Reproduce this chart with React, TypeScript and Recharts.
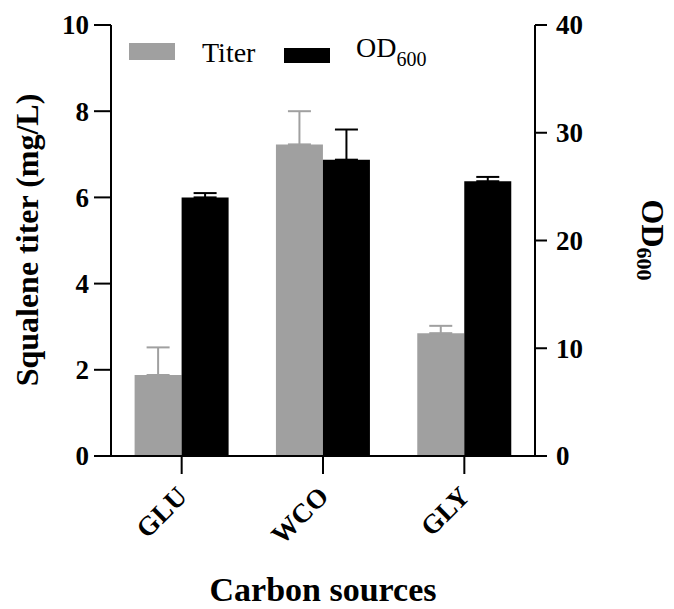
import { BarChart, Bar, XAxis, YAxis, ErrorBar, Legend } from "recharts";

document.body.style.margin = "0";

const categories = ["GLU", "WCO", "GLY"];
const titer = [1.88, 7.23, 2.85];
const titerErr = [0.64, 0.77, 0.17];
const od600 = [24.0, 27.5, 25.5];
const odErr = [0.4, 2.8, 0.4];
const leftTicks = [0, 2, 4, 6, 8, 10];
const rightTicks = [0, 10, 20, 30, 40];

const data = categories.map((name, i) => ({
  name,
  titer: titer[i],
  titerErr: [0, titerErr[i]],
  od: od600[i],
  odErr: [0, odErr[i]],
}));

const serif = '"Liberation Serif", "Times New Roman", serif';
const GRAY = "#a0a0a0";

const tickFont = { fontFamily: serif, fontSize: 27, fontWeight: 700, fill: "#000" };

function XTick({ x, y, payload }: any) {
  const tx = x + 7;
  const ty = y + 24;
  return (
    <text x={tx} y={ty} transform={`rotate(-45 ${tx} ${ty})`} textAnchor="end" {...tickFont}>
      {payload.value}
    </text>
  );
}

function YTick({ x, y, payload, textAnchor }: any) {
  return (
    <text x={x} y={y} dy="0.35em" textAnchor={textAnchor} {...tickFont}>
      {payload.value}
    </text>
  );
}

function LegendBox() {
  return (
    <svg width={674} height={80} style={{ display: "block" }}>
      <rect x={129} y={43} width={46} height={17} fill={GRAY} />
      <text x={202} y={62} fontFamily={serif} fontSize={28} fill="#000">Titer</text>
      <rect x={284} y={48} width={46} height={15} fill="#000" />
      <text x={356} y={57} fontFamily={serif} fontSize={28} fill="#000">
        OD<tspan fontSize={20} dy={9}>600</tspan>
      </text>
    </svg>
  );
}

export default function App() {
  return (
    <BarChart
      width={674}
      height={609}
      data={data}
      margin={{ top: 25, right: 0, left: 0, bottom: 0 }}
      barCategoryGap="16.7%"
      barGap={0}
    >
      <XAxis
        dataKey="name"
        height={153}
        tickSize={18}
        tickMargin={0}
        stroke="#000"
        strokeWidth={2}
        tick={<XTick />}
        interval={0}
        label={{
          content: () => (
            <text x={323} y={601} textAnchor="middle" fontFamily={serif} fontSize={34} fontWeight={700} fill="#000">
              Carbon sources
            </text>
          ),
        }}
      />
      <YAxis
        yAxisId="left"
        orientation="left"
        width={111}
        domain={[0, 10]}
        ticks={leftTicks}
        tickSize={17}
        tickMargin={5}
        stroke="#000"
        strokeWidth={2}
        tick={<YTick />}
        label={{
          content: () => (
            <text x={38} y={240} transform="rotate(-90 38 240)" textAnchor="middle" fontFamily={serif} fontSize={32} fontWeight={700} fill="#000">
              Squalene titer (mg/L)
            </text>
          ),
        }}
      />
      <YAxis
        yAxisId="right"
        orientation="right"
        width={139}
        domain={[0, 40]}
        ticks={rightTicks}
        tickSize={12}
        tickMargin={9}
        stroke="#000"
        strokeWidth={2}
        tick={<YTick />}
        label={{
          content: () => (
            <text x={642} y={240} transform="rotate(90 642 240)" textAnchor="middle" fontFamily={serif} fontSize={32} fontWeight={700} fill="#000">
              OD<tspan fontSize={22} dy={5}>600</tspan>
            </text>
          ),
        }}
      />
      <Legend
        verticalAlign="middle"
        layout="horizontal"
        wrapperStyle={{ position: "absolute", top: 0, left: 0, width: 674, height: 80 }}
        content={() => <LegendBox />}
      />
      <Bar yAxisId="left" dataKey="titer" name="Titer" fill={GRAY} isAnimationActive={false}>
        <ErrorBar dataKey="titerErr" direction="y" width={11.5} stroke={GRAY} strokeWidth={2} />
      </Bar>
      <Bar yAxisId="right" dataKey="od" name="OD600" fill="#000" isAnimationActive={false}>
        <ErrorBar dataKey="odErr" direction="y" width={11.5} stroke="#000" strokeWidth={2} />
      </Bar>
    </BarChart>
  );
}
